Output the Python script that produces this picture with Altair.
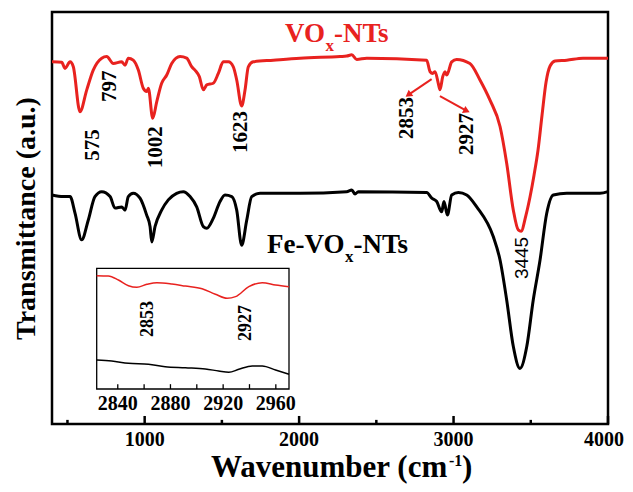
import altair as alt
import pandas as pd

# ---------------- data ----------------
red_wn = [400, 463, 484, 517, 538, 581, 625, 667, 722, 754, 797, 851, 873, 894, 926, 959, 991, 1013, 1024, 1052,
          1078, 1110, 1143, 1175, 1229, 1272, 1305, 1326, 1354, 1380, 1402, 1444, 1477, 1509, 1542, 1574, 1596, 1628,
          1650, 1671, 1703, 1833, 2006, 2265, 2308, 2341, 2373, 2438, 2826, 2848, 2865, 2880, 2901, 2912, 2930, 2945,
          2956, 2988, 3020, 3106, 3171, 3236, 3301, 3344, 3387, 3419, 3437, 3469, 3495, 3521, 3547, 3573, 3599, 3625,
          3657, 3733, 3838, 3981, 4000]
red_t = [87.9, 87.8, 86.3, 87.9, 86.7, 75.8, 81.1, 85.9, 88.8, 89.2, 87.5, 87.9, 87.1, 88.8, 88.3, 85.9, 81.5, 80.7,
         81.5, 74.2, 78.2, 82.7, 84.7, 87.5, 89.2, 88.8, 86.7, 85.9, 84.3, 81.1, 82.3, 82.7, 85.1, 87.9, 87.9, 86.7,
         83.5, 77.2, 81.1, 86.7, 87.9, 88.3, 88.8, 89.2, 89.3, 89.6, 88.5, 88.8, 88.3, 85.5, 85.1, 85.5, 82.7, 81.1,
         84.3, 85.5, 84.7, 87.9, 88.5, 87.5, 83.5, 78.6, 72.2, 63.3, 51.9, 47.1, 46.8, 50.7, 55.1, 60.4, 66.5, 75.0,
         83.0, 86.9, 88.1, 88.3, 88.8, 88.8, 88.8]

black_wn = [400, 473, 517, 549, 592, 635, 678, 722, 776, 808, 851, 873, 894, 926, 970, 1013, 1035, 1046, 1067, 1110,
            1153, 1207, 1250, 1294, 1337, 1380, 1402, 1444, 1488, 1520, 1564, 1596, 1628, 1661, 1693, 1747, 2006, 2308,
            2341, 2362, 2383, 2826, 2859, 2891, 2923, 2938, 2960, 2988, 3031, 3085, 3150, 3257, 3301, 3344, 3387, 3430,
            3474, 3516, 3560, 3603, 3646, 3733, 3948, 4000]
black_t = [55.6, 55.2, 55.2, 51.2, 44.7, 49.5, 55.2, 56.4, 55.2, 52.4, 52.7, 51.9, 55.2, 56.0, 54.8, 50.7, 47.9, 44.2,
           47.9, 51.9, 54.4, 56.0, 56.4, 55.2, 52.7, 47.9, 47.5, 49.9, 54.0, 55.6, 55.2, 51.9, 43.4, 49.5, 55.2, 56.0,
           56.0, 56.4, 56.8, 55.8, 56.4, 56.2, 54.8, 54.0, 51.5, 54.0, 50.7, 55.6, 56.2, 55.6, 52.7, 45.5, 39.8, 30.1,
           18.8, 13.5, 18.8, 30.1, 39.8, 51.1, 55.6, 56.0, 56.0, 56.4]

inset_red_wn = [2824, 2832.8, 2840.5, 2848.1, 2854.5, 2862.1, 2869.7, 2881.1, 2891.3, 2904, 2914.1, 2923, 2929.4,
                2939.5, 2949.7, 2959.8, 2970]
inset_red_t = [93.9, 93.6, 90.3, 85.6, 84.3, 86.7, 88.1, 87.0, 85.3, 83.1, 78.5, 75.1, 76.5, 84.8, 88.1, 86.2, 84.8]
inset_black_wn = [2824, 2835.4, 2848.1, 2863.3, 2876, 2891.3, 2906.5, 2916.6, 2924.3, 2931.9, 2942.1, 2949.7,
                  2959.8, 2970]
inset_black_t = [24.0, 23.2, 21.3, 20.5, 18.5, 17.6, 16.6, 14.9, 13.8, 16.3, 19.1, 19.1, 15.7, 12.2]

peak_text = ["575", "797", "1002", "1623", "2853", "2927"]
peak_wn = [665, 776, 1073, 1624, 2699, 3087]
peak_t = [67.7, 82.0, 67.2, 70.9, 74.3, 70.4]

inset_text = ["2853", "2927"]
inset_text_wn = [2863, 2937]
inset_text_t = [58.0, 54.7]

main_ticks = [1000, 2000, 3000, 4000]
main_tick_labels = ["1000", "2000", "3000", "4000"]
minor_ticks = [500, 1500, 2500, 3500]
inset_ticks = [2840, 2860, 2880, 2900, 2920, 2940, 2960]
inset_major = [2840, 2880, 2920, 2960]
inset_tick_labels = ["2840", "2880", "2920", "2960"]

arrow_wn = [2858, 2912]
arrow_t = [83.7, 79.6]
arrow_wn2 = [2707, 3085]
arrow_t2 = [79.9, 76.0]
arrow_angle = [233, 116]

# ---------------- styling ----------------
FONT = "Liberation Serif"
RED = "#e8221f"

xs = alt.Scale(domain=[400, 4000], nice=False, zero=False)
ys = alt.Scale(domain=[0, 100], nice=False, zero=False)
xax = alt.Axis(labels=False, title=None, ticks=False, tickSize=0, domain=False, grid=False)
yax = alt.Axis(title="Transmittance (a.u.)", labels=False, ticks=False, tickSize=0, domain=False, grid=False,
               titleFont=FONT, titleFontSize=28, titleFontWeight="bold", titleColor="black", titlePadding=12)


def X(f="wn"):
    return alt.X(f"{f}:Q", scale=xs, axis=xax)


def Y(f="t"):
    return alt.Y(f"{f}:Q", scale=ys, axis=yax)


red_df = pd.DataFrame({"wn": red_wn, "t": red_t})
black_df = pd.DataFrame({"wn": black_wn, "t": black_t})

red_line = alt.Chart(red_df).mark_line(color=RED, strokeWidth=3, interpolate="monotone").encode(x=X(), y=Y())
black_line = alt.Chart(black_df).mark_line(color="black", strokeWidth=3, interpolate="monotone").encode(x=X(), y=Y())

tick_df = pd.DataFrame({"wn": main_ticks + minor_ticks,
                        "t0": [0] * 8,
                        "t1": [1.95] * 4 + [1.0] * 4})
ticks = alt.Chart(tick_df).mark_rule(color="black", strokeWidth=2.5).encode(
    x=X(), y=Y("t0"), y2=alt.Y2("t1:Q"))

tick_lab_df = pd.DataFrame({"wn": main_ticks, "t": [-3.9] * 4, "label": main_tick_labels})
tick_labels = alt.Chart(tick_lab_df.iloc[:3]).mark_text(font=FONT, fontSize=20, fontWeight="bold", align="center",
                                                        baseline="middle", color="black").encode(
    x=X(), y=Y(), text="label:N")
tick_label_last = alt.Chart(tick_lab_df.iloc[3:]).mark_text(font=FONT, fontSize=20, fontWeight="bold",
                                                            align="center", baseline="middle", color="black",
                                                            dx=-4).encode(
    x=X(), y=Y(), text="label:N")

peak_df = pd.DataFrame({"wn": peak_wn, "t": peak_t, "label": peak_text})
peaks = alt.Chart(peak_df).mark_text(font=FONT, fontSize=21, fontWeight="bold", angle=270,
                                     align="center", baseline="middle", color="black").encode(
    x=X(), y=Y(), text="label:N")

p3445 = alt.Chart(pd.DataFrame({"wn": [3443], "t": [40.3], "label": ["3445"]})).mark_text(
    font="Liberation Sans", fontSize=19, angle=270, align="center", baseline="middle", color="black").encode(
    x=X(), y=Y(), text="label:N")

arrow_df = pd.DataFrame({"wn": arrow_wn, "t": arrow_t, "wn2": arrow_wn2, "t2": arrow_t2, "ang": arrow_angle})
arrow_lines = alt.Chart(arrow_df).mark_rule(color=RED, strokeWidth=2).encode(
    x=X(), y=Y(), x2=alt.X2("wn2:Q"), y2=alt.Y2("t2:Q"))
arrow_heads = alt.Chart(arrow_df).mark_point(shape="triangle-up", filled=True, color=RED, size=60,
                                             opacity=1).encode(
    x=X("wn2"), y=Y("t2"), angle=alt.Angle("ang:Q", scale=None))


def label_parts(parts, color):
    df = pd.DataFrame(parts)
    layers = []
    for size in sorted(df["size"].unique()):
        sub = df[df["size"] == size]
        layers.append(alt.Chart(sub).mark_text(font=FONT, fontSize=int(size), fontWeight="bold", align="left",
                                               baseline="alphabetic", color=color).encode(
            x=X(), y=Y(), text="label:N"))
    return layers


vox = label_parts({"wn": [1909, 2171, 2226], "t": [92.7, 90.5, 92.7], "label": ["VO", "x", "-NTs"],
                   "size": [27, 17, 27]}, RED)
fevox = label_parts({"wn": [1792, 2297, 2352], "t": [41.5, 39.3, 41.5], "label": ["Fe-VO", "x", "-NTs"],
                     "size": [27, 17, 27]}, "black")

xt_df = pd.DataFrame({"a": [0]})
xt1 = alt.Chart(xt_df).mark_text(font=FONT, fontSize=31, fontWeight="bold", align="left",
                                 baseline="alphabetic", color="black", text="Wavenumber (cm").encode(
    x=alt.value(159), y=alt.value(465))
xt2 = alt.Chart(xt_df).mark_text(font=FONT, fontSize=16, fontWeight="bold", align="left",
                                 baseline="alphabetic", color="black", text="-1").encode(
    x=alt.value(397), y=alt.value(454))
xt3 = alt.Chart(xt_df).mark_text(font=FONT, fontSize=31, fontWeight="bold", align="left",
                                 baseline="alphabetic", color="black", text=")").encode(
    x=alt.value(410), y=alt.value(465))

main = alt.layer(red_line, black_line, ticks, tick_labels, tick_label_last, peaks, p3445, arrow_lines,
                 arrow_heads, *vox, *fevox, xt1, xt2, xt3)

# ---------------- inset ----------------
ixs = alt.Scale(domain=[2824, 2970], range=[44.7, 237], nice=False, zero=False)
iys = alt.Scale(domain=[0, 100], range=[377, 256.3], nice=False, zero=False)


def IX(f="wn"):
    return alt.X(f"{f}:Q", scale=ixs, axis=None)


def IY(f="t"):
    return alt.Y(f"{f}:Q", scale=iys, axis=None)


box = alt.Chart(pd.DataFrame({"wn": [2824], "wn2": [2970], "t": [0], "t2": [100]})).mark_rect(
    fill="white", stroke="black", strokeWidth=1.3).encode(x=IX(), x2=alt.X2("wn2:Q"), y=IY(), y2=alt.Y2("t2:Q"))
ired = alt.Chart(pd.DataFrame({"wn": inset_red_wn, "t": inset_red_t})).mark_line(
    color=RED, strokeWidth=1.5, interpolate="monotone").encode(x=IX(), y=IY())
iblack = alt.Chart(pd.DataFrame({"wn": inset_black_wn, "t": inset_black_t})).mark_line(
    color="black", strokeWidth=1.5, interpolate="monotone").encode(x=IX(), y=IY())
iticks = alt.Chart(pd.DataFrame({"wn": inset_ticks, "t": [0] * 7, "t2": [4] * 7})).mark_rule(
    color="black", strokeWidth=1.3).encode(x=IX(), y=IY(), y2=alt.Y2("t2:Q"))
ilabels = alt.Chart(pd.DataFrame({"wn": inset_text_wn, "t": inset_text_t, "label": inset_text})).mark_text(
    font=FONT, fontSize=18, fontWeight="bold", angle=270, align="center", baseline="middle",
    color="black").encode(x=IX(), y=IY(), text="label:N")
itick_labels = alt.Chart(pd.DataFrame({"wn": inset_major, "t": [-12.8] * 4, "label": inset_tick_labels})).mark_text(
    font=FONT, fontSize=20, fontWeight="bold", align="center", baseline="middle", color="black").encode(
    x=IX(), y=IY(), text="label:N")

inset = alt.layer(box, ired, iblack, iticks, ilabels, itick_labels)

chart = alt.layer(main, inset).resolve_scale(x="independent", y="independent").properties(
    width=556, height=412,
    padding={"left": 44, "top": 4, "right": 17, "bottom": 60},
    autosize=alt.AutoSizeParams(type="none"),
    background="white",
).configure_view(stroke="black", strokeWidth=2.5)

chart.save("out.html", embed_options={"renderer": "svg", "actions": False})
